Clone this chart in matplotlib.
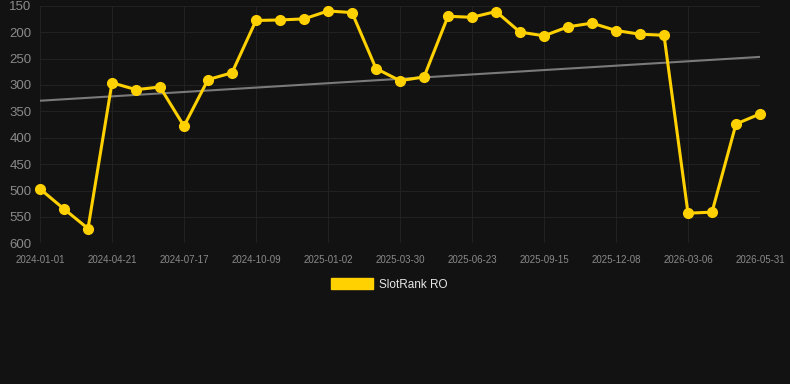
import matplotlib.pyplot as plt
import matplotlib.patches as mpatches
import numpy as np

plt.rcParams['font.family'] = ['Liberation Sans', 'DejaVu Sans']

# rank values, one point per month-ish
ranks = [497, 535, 572, 296, 309, 304, 378, 290, 277, 178,
         177, 175, 160, 163, 269, 292, 285, 170, 172, 161,
         200, 207, 190, 183, 197, 204, 206, 543, 541, 374, 355]
tick_labels = ['2024-01-01', '2024-04-21', '2024-07-17', '2024-10-09',
               '2025-01-02', '2025-03-30', '2025-06-23', '2025-09-15',
               '2025-12-08', '2026-03-06', '2026-05-31']
trend_ends = [330, 247]
y_ticks = [150, 200, 250, 300, 350, 400, 450, 500, 550, 600]

bg = '#121212'
yellow = '#FFD100'

fig = plt.figure(figsize=(7.9, 3.84), dpi=100, facecolor=bg)
ax = fig.add_axes([40 / 790, 1 - 243.3 / 384, 720 / 790, 237.6 / 384])
ax.set_facecolor(bg)

x = np.arange(len(ranks))

# trend line
ax.plot([x[0], x[-1]], trend_ends, color='#7a7a7a', linewidth=1.5, zorder=2)

# main series
ax.plot(x, ranks, color=yellow, linewidth=2.2, marker='o', markersize=7,
        zorder=3, clip_on=False)

ax.set_xlim(0, len(ranks) - 1)
ax.set_ylim(600, 150)
ax.set_yticks(y_ticks)
ax.set_xticks(x[::3])
ax.set_xticklabels(tick_labels)

ax.grid(True, color='#212121', linewidth=0.8)
for s in ax.spines.values():
    s.set_visible(False)
ax.tick_params(axis='y', colors='#8a8a8a', labelsize=9.5, length=0, pad=6)
ax.tick_params(axis='x', colors='#8a8a8a', labelsize=7, length=0, pad=8.5)

# legend
handle = mpatches.Patch(color=yellow, label='SlotRank RO')
leg = fig.legend(handles=[handle], loc='center', bbox_to_anchor=(389 / 790, 1 - 284.5 / 384),
                 frameon=False, fontsize=8.5, handlelength=3.6, handleheight=1.0,
                 handletextpad=0.5)
for t in leg.get_texts():
    t.set_color('#e6e6e6')

fig.savefig('out.png', dpi=100, facecolor=bg)
